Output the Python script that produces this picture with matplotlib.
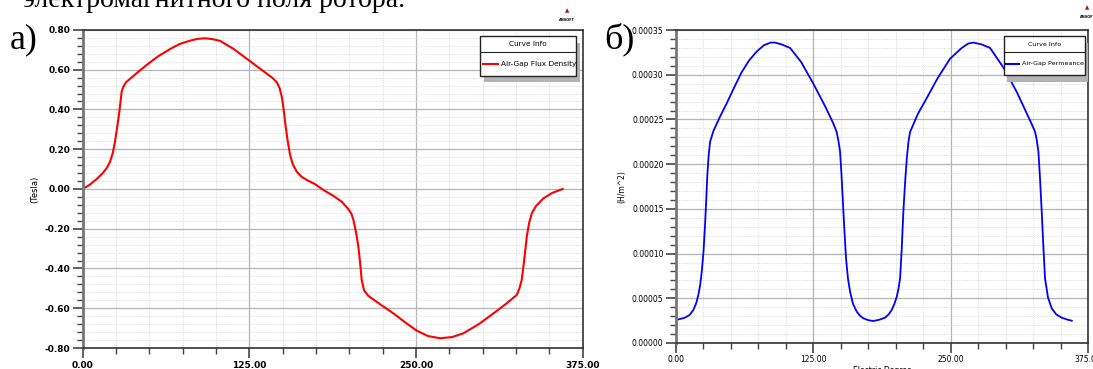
import numpy as np
import matplotlib.pyplot as plt
from matplotlib.ticker import MultipleLocator, FormatStrFormatter
from matplotlib.patches import Rectangle

# a) air-gap flux density (Tesla) vs electric degree
flux_deg = [0, 5, 10.5, 15, 18, 20.5, 22.5, 24.2, 25.8, 27.5, 29.2, 30.5, 32.5, 40, 48, 56,
            65.5, 73, 80.5, 86, 91.7, 97, 103, 113, 124.2, 135, 142, 145.5, 147.5, 149.2,
            150.5, 151.7, 153.5, 155.5, 157.5, 160.5, 164, 168, 174, 180.5, 188, 194.2,
            199, 201.5, 203, 205, 206.7, 208, 209.2, 211, 214.2, 223, 233, 242, 250.5,
            259, 268, 277, 285.5, 297, 308, 318, 325.5, 327.5, 329.2, 331, 333, 334.8,
            336.8, 340, 345.5, 352, 360]
flux_val = [0, 0.02, 0.05, 0.08, 0.105, 0.137, 0.18, 0.238, 0.31, 0.39, 0.49, 0.515, 0.537,
            0.58, 0.624, 0.665, 0.704, 0.73, 0.746, 0.755, 0.758, 0.754, 0.745, 0.705, 0.649,
            0.595, 0.56, 0.537, 0.51, 0.465, 0.41, 0.339, 0.25, 0.171, 0.125, 0.087, 0.062,
            0.045, 0.025, -0.005, -0.035, -0.064, -0.1, -0.125, -0.156, -0.22, -0.29, -0.37,
            -0.458, -0.51, -0.538, -0.58, -0.626, -0.672, -0.713, -0.74, -0.751, -0.745,
            -0.726, -0.68, -0.626, -0.575, -0.533, -0.5, -0.458, -0.36, -0.24, -0.17,
            -0.122, -0.085, -0.047, -0.02, 0.0]

# b) air-gap permeance, values in 1e-5 H/m^2
perm_deg = [0, 8.2, 12.5, 15.8, 18.5, 20.3, 22, 23.4, 25, 26.4, 27.5, 28.5, 29.7, 31, 34, 40,
            46.1, 53, 59.8, 66.5, 73.4, 80, 86, 90.1, 96, 103.8, 114, 125, 136, 143, 146.2,
            147.8, 149.3, 150.5, 151.7, 153.2, 154.7, 156.5, 158.4, 161, 164.5, 167.5, 170.5,
            175, 179.6, 185, 190.2, 193.5, 196.3, 198.8, 200.9, 202.5, 203.9, 205.4, 206.9,
            208.5, 210, 211.5, 213, 220, 228.2, 238, 249.4, 260, 266, 270.6, 278, 285.8, 298,
            310, 318, 324, 326.8, 328.3, 329.8, 331.3, 332.8, 334.3, 335.8, 338.5, 341.9,
            346, 351, 356, 360.2]
perm_e5 = [2.57, 2.83, 3.15, 3.69, 4.5, 5.37, 6.5, 7.97, 10.2, 13.2, 16, 18.8, 21, 22.5, 23.7,
           25.3, 26.8, 28.6, 30.3, 31.6, 32.6, 33.3, 33.6, 33.6, 33.4, 33.0, 31.4, 29.0, 26.4,
           24.6, 23.6, 22.6, 21.4, 19, 16.2, 12.7, 9.47, 7.2, 5.74, 4.4, 3.5, 3.05, 2.76, 2.55,
           2.46, 2.6, 2.83, 3.2, 3.69, 4.4, 5.18, 6.1, 7.23, 10.5, 14.7, 18, 20.6, 22.5, 23.6,
           25.6, 27.4, 29.6, 31.8, 33.0, 33.5, 33.6, 33.4, 33.0, 30.8, 28.1, 26.0, 24.4, 23.6,
           22.7, 21.4, 18.3, 14.7, 10.8, 7.23, 5.1, 3.88, 3.2, 2.83, 2.62, 2.49]
perm_val = np.array(perm_e5) * 1e-5

narrow = ['Liberation Sans Narrow', 'DejaVu Sans']
serif = ['Liberation Serif', 'DejaVu Serif']

fig = plt.figure(figsize=(10.93, 3.69), dpi=100)


def style_axis(ax, ymin, ymax, ymaj, ymin_step, yfmt, fs, weight):
    ax.set_xlim(0, 375)
    ax.set_ylim(ymin, ymax)
    ax.xaxis.set_major_locator(MultipleLocator(125))
    ax.xaxis.set_minor_locator(MultipleLocator(25))
    ax.yaxis.set_major_locator(MultipleLocator(ymaj))
    ax.yaxis.set_minor_locator(MultipleLocator(ymin_step))
    ax.xaxis.set_major_formatter(FormatStrFormatter('%.2f'))
    ax.yaxis.set_major_formatter(FormatStrFormatter(yfmt))
    ax.grid(which='major', color='#b4b4b4', lw=0.9, ls='-')
    ax.grid(which='minor', color='#dadada', lw=0.6, ls=(0, (1.5, 1.5)))
    ax.set_axisbelow(True)
    ax.tick_params(which='major', length=7, width=1.2, color='#444444', pad=2,
                   labelsize=fs)
    ax.tick_params(which='minor', length=4, width=1.0, color='#444444')
    for lab in ax.get_xticklabels() + ax.get_yticklabels():
        lab.set_family(narrow)
        lab.set_fontweight(weight)
    for s in ax.spines.values():
        s.set_color('#333333')
        s.set_linewidth(1.2)
    ax.spines['left'].set_color('#777777')
    ax.spines['left'].set_linewidth(2)


def legend_box(ax, x0, y0, w, h, color, label, fs):
    tr = ax.transAxes
    ax.add_patch(Rectangle((x0 + 0.008, y0 - 0.02), w, h, transform=tr,
                           facecolor='#b3b3b3', edgecolor='none', zorder=5, clip_on=False))
    ax.add_patch(Rectangle((x0, y0), w, h, transform=tr, facecolor='white',
                           edgecolor='#222222', lw=1, zorder=6, clip_on=False))
    ax.plot([x0, x0 + w], [y0 + h * 0.6, y0 + h * 0.6], transform=tr,
            color='#222222', lw=0.8, zorder=7)
    ax.text(x0 + w / 2, y0 + h * 0.8, 'Curve Info', transform=tr, ha='center',
            va='center', fontsize=fs, family=narrow, zorder=7)
    ax.plot([x0 + 0.006, x0 + 0.18 * w], [y0 + h * 0.3] * 2, transform=tr,
            color=color, lw=1.5, zorder=7)
    ax.text(x0 + 0.22 * w, y0 + h * 0.3, label, transform=tr, ha='left',
            va='center', fontsize=fs, family=narrow, zorder=7)


# left: flux density
ax1 = fig.add_axes([0.0757, 0.0569, 0.4575, 0.862])
ax1.plot(flux_deg, flux_val, color='#ff0000', lw=1.5)
style_axis(ax1, -0.8, 0.8, 0.2, 0.04, '%.2f', 6.5, 'bold')
ax1.set_ylabel('(Tesla)', fontsize=6, family=narrow, labelpad=4)
ax1.set_xlabel('Electric Degree', fontsize=6, family=narrow, labelpad=1)
legend_box(ax1, 0.795, 0.855, 0.192, 0.125, '#ff0000', 'Air-Gap Flux Density', 5.3)

# right: permeance
ax2 = fig.add_axes([0.6185, 0.0705, 0.377, 0.848])
ax2.plot(perm_deg, perm_val, color='#0000ff', lw=1.3)
style_axis(ax2, 0, 0.00035, 0.00005, 0.00001, '%.5f', 5.5, 'normal')
ax2.set_ylabel('(H/m^2)', fontsize=5.5, family=narrow, labelpad=4)
ax2.set_xlabel('Electric Degree', fontsize=5.5, family=narrow, labelpad=1)
legend_box(ax2, 0.796, 0.855, 0.197, 0.125, '#0000ff', 'Air-Gap Permeance', 4.6)

# panel letters and caption fragment
fig.text(0.009, 0.87, 'а)', fontsize=26, family=serif)
fig.text(0.553, 0.87, 'б)', fontsize=26, family=serif)
fig.text(0.021, 0.982, 'электромагнитного поля ротора.', fontsize=20, family=serif)

# ANSOFT marks
for xf, yf in [(0.519, 0.955), (0.995, 0.962)]:
    fig.text(xf, yf + 0.012, '\u25b2', fontsize=4, color='#b01010', ha='center')
    fig.text(xf, yf - 0.012, 'ANSOFT', fontsize=2.5, ha='center', fontweight='bold')

fig.savefig('out.png', dpi=100)
